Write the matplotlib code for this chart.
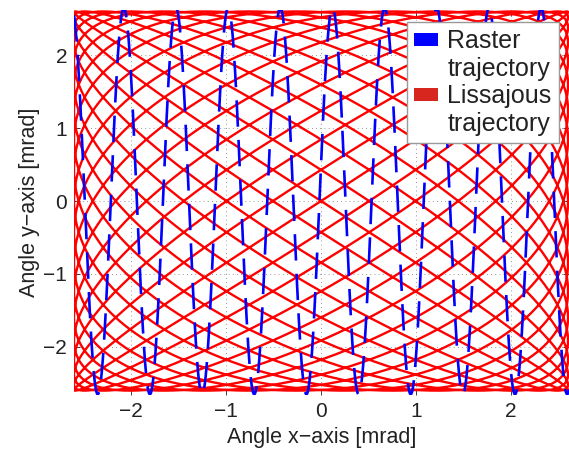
import numpy as np
import matplotlib
matplotlib.use("Agg")
import matplotlib.pyplot as plt
from matplotlib.patches import Patch

# ── Trajectory parameters ────────────────────────────────────────────────────
scan_amplitude = 2.6            # mrad, both axes
lissajous_freqs = [19, 16]      # x, y frequency ratio
lissajous_phase = 0.0           # rad, y relative to x
raster_period = 0.549           # mrad of x travel per y oscillation
raster_peak_x = -2.35           # x of the first bottom turn-around
raster_amplitude = 2.65         # mrad

x_ticks = [-2, -1, 0, 1, 2]
y_ticks = [-2, -1, 0, 1, 2]
x_limits = [-2.6, 2.61]
y_limits = [-2.66, 2.62]
# legend: each name is split so the colour patch sits next to its first line
legend_lines = ["Raster", "trajectory", "Lissajous", "trajectory"]
legend_colors = ["#0000ff", "none", "#d7261e", "none"]
line_colors = ["#0000ff", "#ff0000"]

plt.rcParams['font.family'] = ['Liberation Sans', 'DejaVu Sans']

# ── Curves ───────────────────────────────────────────────────────────────────
t = np.linspace(0, 2 * np.pi, 40000)
fx, fy = lissajous_freqs
lis_x = scan_amplitude * np.sin(fx * t)
lis_y = scan_amplitude * np.sin(fy * t + lissajous_phase)

ras_x = np.linspace(x_limits[0], x_limits[1], 8000)
ras_y = -raster_amplitude * np.cos(2 * np.pi * (ras_x - raster_peak_x) / raster_period)

# ── Plot ─────────────────────────────────────────────────────────────────────
fig = plt.figure(figsize=(5.69, 4.53), dpi=100)
ax = fig.add_axes([74 / 569, 58 / 453, 495 / 569, 385 / 453])

ax.plot(lis_x, lis_y, color=line_colors[1], linewidth=1.7, zorder=2)
ax.plot(ras_x, ras_y, color=line_colors[0], linewidth=1.9,
        linestyle=(0, (10, 5)), zorder=3)

ax.set_xlim(x_limits)
ax.set_ylim(y_limits)
ax.set_xticks(x_ticks)
ax.set_yticks(y_ticks)
ax.set_xticklabels([f"{v:d}".replace("-", "\u2212") for v in x_ticks])
ax.set_yticklabels([f"{v:d}".replace("-", "\u2212") for v in y_ticks])
ax.tick_params(direction='in', top=True, right=True, labelsize=15,
               length=4, width=0.6, colors='#222222', pad=5)
ax.grid(True, linestyle=(0, (1, 4)), color='#777777', linewidth=0.6, zorder=0)
ax.set_axisbelow(True)
for s in ax.spines.values():
    s.set_visible(False)

ax.set_xlabel("Angle x\u2212axis [mrad]", fontsize=15.5, color='#222222', labelpad=4)
ax.set_ylabel("Angle y\u2212axis [mrad]", fontsize=15.5, color='#222222', labelpad=2)

handles = [Patch(facecolor=c, edgecolor='none') for c in legend_colors]
leg = ax.legend(handles, legend_lines, loc='upper right',
                bbox_to_anchor=(0.98, 0.97), borderaxespad=0, fontsize=18,
                fancybox=False, framealpha=1, edgecolor='#999999',
                handlelength=0.95, handleheight=0.42, handletextpad=0.37,
                borderpad=0.3, labelspacing=0.14)
leg.get_frame().set_linewidth(1.0)
for txt in leg.get_texts():
    txt.set_color('#222222')

fig.savefig("out.png", dpi=100)
